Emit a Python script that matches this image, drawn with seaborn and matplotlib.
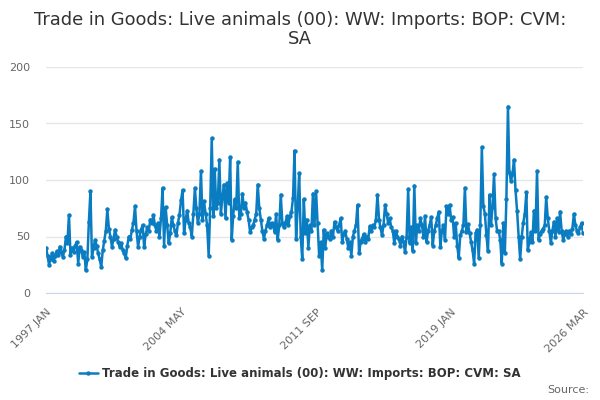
import matplotlib
matplotlib.use("Agg")
import matplotlib.pyplot as plt
import seaborn as sns
import pandas as pd

title = "Trade in Goods: Live animals (00): WW: Imports: BOP: CVM:\nSA"
series_name = "Trade in Goods: Live animals (00): WW: Imports: BOP: CVM: SA"
start_month = "1997-01-01"

# monthly values, one row per year (1997 .. 2026 MAR)
values = [
    40, 33, 25, 30, 35, 28, 33, 37, 34, 41, 36, 32,
    38, 50, 44, 69, 34, 40, 36, 42, 45, 26, 41, 38,
    32, 36, 20, 30, 63, 90, 32, 40, 47, 42, 35, 30,
    23, 38, 46, 55, 74, 57, 50, 41, 48, 56, 50, 45,
    41, 44, 38, 35, 31, 42, 50, 48, 56, 62, 77, 55,
    41, 50, 56, 60, 41, 52, 58, 55, 65, 62, 69, 60,
    55, 62, 50, 66, 93, 42, 76, 60, 44, 53, 67, 60,
    55, 51, 62, 69, 82, 91, 53, 65, 73, 62, 58, 50,
    70, 93, 75, 62, 70, 108, 65, 81, 70, 60, 33, 75,
    137, 68, 110, 75, 80, 118, 70, 85, 96, 66, 97, 80,
    120, 47, 68, 83, 75, 116, 66, 70, 88, 75, 80, 72,
    65, 54, 58, 60, 65, 70, 96, 75, 65, 55, 48, 55,
    60, 66, 58, 62, 60, 54, 70, 47, 60, 87, 62, 58,
    62, 68, 60, 68, 72, 84, 126, 48, 75, 106, 50, 30,
    83, 53, 65, 40, 60, 55, 88, 60, 90, 62, 33, 45,
    20, 56, 40, 53, 50, 48, 55, 50, 63, 58, 55, 60,
    66, 45, 52, 55, 48, 40, 45, 33, 50, 55, 60, 78,
    35, 45, 48, 52, 45, 50, 48, 59, 55, 60, 58, 65,
    87, 65, 58, 51, 60, 78, 70, 62, 66, 58, 55, 44,
    55, 50, 48, 42, 50, 45, 36, 50, 92, 44, 58, 37,
    95, 44, 60, 55, 66, 60, 50, 68, 45, 55, 60, 67,
    42, 55, 60, 66, 72, 41, 55, 60, 47, 77, 70, 78,
    65, 67, 50, 62, 42, 31, 51, 55, 60, 93, 54, 61,
    53, 45, 38, 26, 53, 56, 31, 60, 129, 77, 70, 51,
    37, 87, 60, 76, 105, 66, 55, 55, 47, 26, 62, 35,
    83, 165, 107, 99, 105, 118, 91, 73, 50, 30, 50, 62,
    70, 89, 38, 45, 54, 45, 73, 55, 108, 47, 52, 55,
    57, 60, 85, 66, 55, 44, 55, 63, 50, 66, 54, 72,
    55, 47, 52, 55, 50, 55, 52, 57, 70, 60, 55, 53,
    58, 62, 53,
]
tick_labels = ["1997 JAN", "2004 MAY", "2011 SEP", "2019 JAN", "2026 MAR"]
y_ticks = [0, 50, 100, 150, 200]

dates = pd.date_range(start_month, periods=len(values), freq="MS")
df = pd.DataFrame({"date": dates, "value": values})

sns.set_style("white")
plt.rcParams["font.family"] = ["DejaVu Sans"]

fig = plt.figure(figsize=(6, 4), dpi=100)
ax = fig.add_axes([0.0767, 0.2675, 0.895, 0.565])

color = "#0a7cc1"
sns.lineplot(data=df, x="date", y="value", ax=ax, color=color, linewidth=1.8,
             marker="o", markersize=3.2, markeredgewidth=0, label=series_name)

ax.set_xlim(dates[0], dates[-1])
ax.set_ylim(0, 200)
ax.set_yticks(y_ticks)
ax.set_yticklabels([str(v) for v in y_ticks], color="#666666", fontsize=8)
ax.yaxis.grid(True, color="#e6e6e6", linewidth=1)
ax.tick_params(axis="y", length=0, pad=11.5)

minor = list(dates[::22]) + [dates[-1]]
ax.set_xticks(minor, minor=True)
major = list(dates[::88]) + [dates[-1]]
ax.set_xticks(major)
ax.set_xticklabels(tick_labels, rotation=45, ha="right", rotation_mode="anchor",
                   color="#666666", fontsize=8)
ax.tick_params(axis="x", which="both", length=8, color="#ccd6eb", width=1, pad=2)

for side in ["top", "right", "left"]:
    ax.spines[side].set_visible(False)
ax.spines["bottom"].set_color("#ccd6eb")
ax.set_xlabel("")
ax.set_ylabel("")

ax.get_legend().remove()
handles, labels = ax.get_legend_handles_labels()
fig.legend(handles, labels, loc="center", bbox_to_anchor=(0.5, 0.067), frameon=False,
           prop={"weight": "bold", "size": 8.5}, handlelength=1.6, handletextpad=0.4,
           labelcolor="#333333")

fig.text(0.5, 1 - 11 / 400, title, ha="center", va="top", fontsize=12.9,
         color="#333333", linespacing=1.05)
fig.text(0.982, 0.025, "Source:", ha="right", va="center", fontsize=8, color="#666666")

fig.savefig("out.png", dpi=100)
plt.close(fig)
